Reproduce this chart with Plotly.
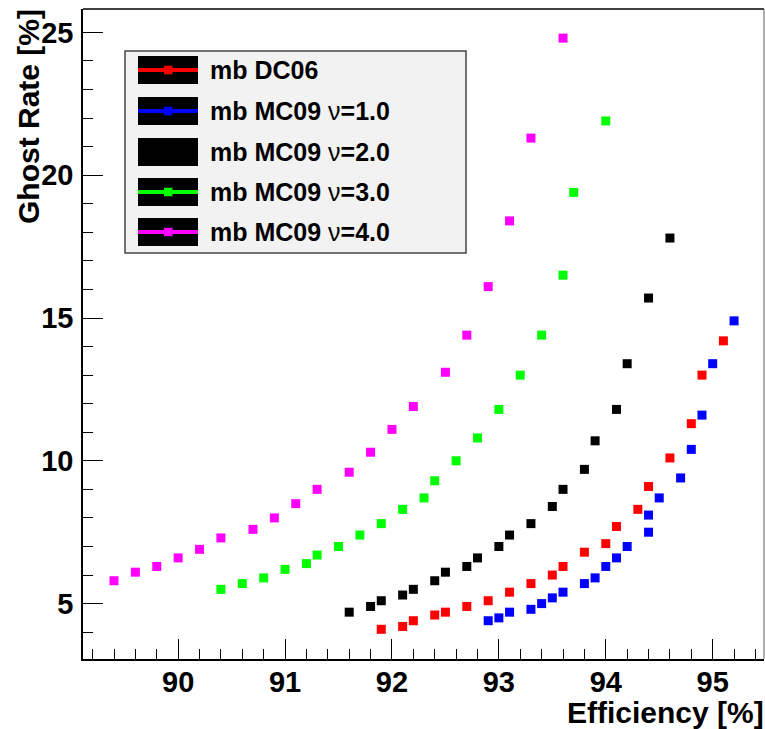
import plotly.graph_objects as go

W, H = 765, 729
L, R, T, B = 83, 764, 9, 659   # plot frame in pixels

# --- data ---
dc06_eff = [91.9, 92.1, 92.2, 92.4, 92.5, 92.7, 92.9, 93.1, 93.3, 93.5,
            93.6, 93.8, 94.0, 94.1, 94.3, 94.4, 94.6, 94.8, 94.9, 95.1]
dc06_ghost = [4.1, 4.2, 4.4, 4.6, 4.7, 4.9, 5.1, 5.4, 5.7, 6.0,
              6.3, 6.8, 7.1, 7.7, 8.3, 9.1, 10.1, 11.3, 13.0, 14.2]

nu1_eff = [92.9, 93.0, 93.1, 93.3, 93.4, 93.5, 93.6, 93.8, 93.9, 94.0,
           94.1, 94.2, 94.4, 94.4, 94.5, 94.7, 94.8, 94.9, 95.0, 95.2]
nu1_ghost = [4.4, 4.5, 4.7, 4.8, 5.0, 5.2, 5.4, 5.7, 5.9, 6.3,
             6.6, 7.0, 7.5, 8.1, 8.7, 9.4, 10.4, 11.6, 13.4, 14.9]

nu2_eff = [91.6, 91.8, 91.9, 92.1, 92.2, 92.4, 92.5, 92.7, 92.8, 93.0,
           93.1, 93.3, 93.5, 93.6, 93.8, 93.9, 94.1, 94.2, 94.4, 94.6]
nu2_ghost = [4.7, 4.9, 5.1, 5.3, 5.5, 5.8, 6.1, 6.3, 6.6, 7.0,
             7.4, 7.8, 8.4, 9.0, 9.7, 10.7, 11.8, 13.4, 15.7, 17.8]

nu3_eff = [90.4, 90.6, 90.8, 91.0, 91.2, 91.3, 91.5, 91.7, 91.9, 92.1,
           92.3, 92.4, 92.6, 92.8, 93.0, 93.2, 93.4, 93.6, 93.7, 94.0]
nu3_ghost = [5.5, 5.7, 5.9, 6.2, 6.4, 6.7, 7.0, 7.4, 7.8, 8.3,
             8.7, 9.3, 10.0, 10.8, 11.8, 13.0, 14.4, 16.5, 19.4, 21.9]

nu4_eff = [89.4, 89.6, 89.8, 90.0, 90.2, 90.4, 90.7, 90.9, 91.1, 91.3,
           91.6, 91.8, 92.0, 92.2, 92.5, 92.7, 92.9, 93.1, 93.3, 93.6]
nu4_ghost = [5.8, 6.1, 6.3, 6.6, 6.9, 7.3, 7.6, 8.0, 8.5, 9.0,
             9.6, 10.3, 11.1, 11.9, 13.1, 14.4, 16.1, 18.4, 21.3, 24.8]

NU = '<span style="font-weight:normal">\u03bd</span>'
names = ["mb DC06", f"mb MC09 {NU}=1.0", f"mb MC09 {NU}=2.0",
         f"mb MC09 {NU}=3.0", f"mb MC09 {NU}=4.0"]
colors = ["#ff0000", "#0000ff", "#000000", "#00ff00", "#ff00ff"]
series = [(dc06_eff, dc06_ghost), (nu1_eff, nu1_ghost), (nu2_eff, nu2_ghost),
          (nu3_eff, nu3_ghost), (nu4_eff, nu4_ghost)]

FONT = "Liberation Sans"


def px(x):
    return (x - L) / (R - L)


def py(y):
    return (B - y) / (B - T)


fig = go.Figure()
for (xs, ys), name, col in zip(series, names, colors):
    fig.add_trace(go.Scatter(x=xs, y=ys, mode="markers", name=name, showlegend=False,
                             marker=dict(symbol="square", size=9, color=col, line=dict(width=0))))

axis_common = dict(showgrid=False, zeroline=False, showline=True, linecolor="black",
                   linewidth=1.5, ticks="inside", ticklen=20, tickwidth=1.2,
                   tickcolor="black", fixedrange=True,
                   tickfont=dict(family=FONT, size=29, color="black", weight="bold"))
fig.update_layout(
    width=W, height=H, paper_bgcolor="white", plot_bgcolor="white",
    margin=dict(l=L, r=W - R, t=T, b=H - B),
    xaxis=dict(range=[89.11, 95.48], dtick=1, tick0=90,
               minor=dict(dtick=0.2, ticklen=10, ticks="inside", tickcolor="black", tickwidth=1.2),
               ticklabelstandoff=-4, **axis_common),
    yaxis=dict(range=[3.06, 25.82], dtick=5, tick0=5,
               minor=dict(dtick=1, ticklen=10, ticks="inside", tickcolor="black", tickwidth=1.2),
               ticklabelstandoff=2, **axis_common),
)

# top and right frame edges
fig.add_shape(type="line", xref="paper", yref="paper", x0=0, x1=1, y0=1, y1=1,
              line=dict(color="black", width=1.5))
fig.add_shape(type="line", xref="paper", yref="paper", x0=1, x1=1, y0=0, y1=1,
              line=dict(color="#777777", width=1.2))

# axis titles
fig.add_annotation(xref="paper", yref="paper", x=px(766), y=py(712), xanchor="right",
                   yanchor="middle", showarrow=False, text="Efficiency [%]",
                   font=dict(family=FONT, size=30, color="black", weight="bold"))
fig.add_annotation(xref="paper", yref="paper", x=px(28), y=py(117), xanchor="center",
                   yanchor="middle", showarrow=False, text="Ghost Rate [%]", textangle=-90,
                   font=dict(family=FONT, size=30, color="black", weight="bold"))

# legend box, drawn by hand in ROOT style
fig.add_shape(type="rect", xref="paper", yref="paper", x0=px(125), x1=px(466),
              y0=py(253), y1=py(51), fillcolor="#f2f2f2", line=dict(color="#444444", width=1.5))
row_y = [70, 111, 152, 192, 232]
for yc, name, col in zip(row_y, names, colors):
    fig.add_shape(type="rect", xref="paper", yref="paper", x0=px(138), x1=px(198),
                  y0=py(yc + 14), y1=py(yc - 14), fillcolor="black", line=dict(width=0))
    fig.add_shape(type="line", xref="paper", yref="paper", x0=px(138), x1=px(198),
                  y0=py(yc), y1=py(yc), line=dict(color=col, width=4))
    fig.add_shape(type="rect", xref="paper", yref="paper", x0=px(164), x1=px(172.5),
                  y0=py(yc + 4.3), y1=py(yc - 4.3), fillcolor=col, line=dict(width=0))
    fig.add_annotation(xref="paper", yref="paper", x=px(208), y=py(yc), xanchor="left",
                       yanchor="middle", showarrow=False, text=name,
                       font=dict(family=FONT, size=25, color="black", weight="bold"))

fig.write_html("out.html", config={"displayModeBar": False},
               post_script="document.body.style.margin='0';")
